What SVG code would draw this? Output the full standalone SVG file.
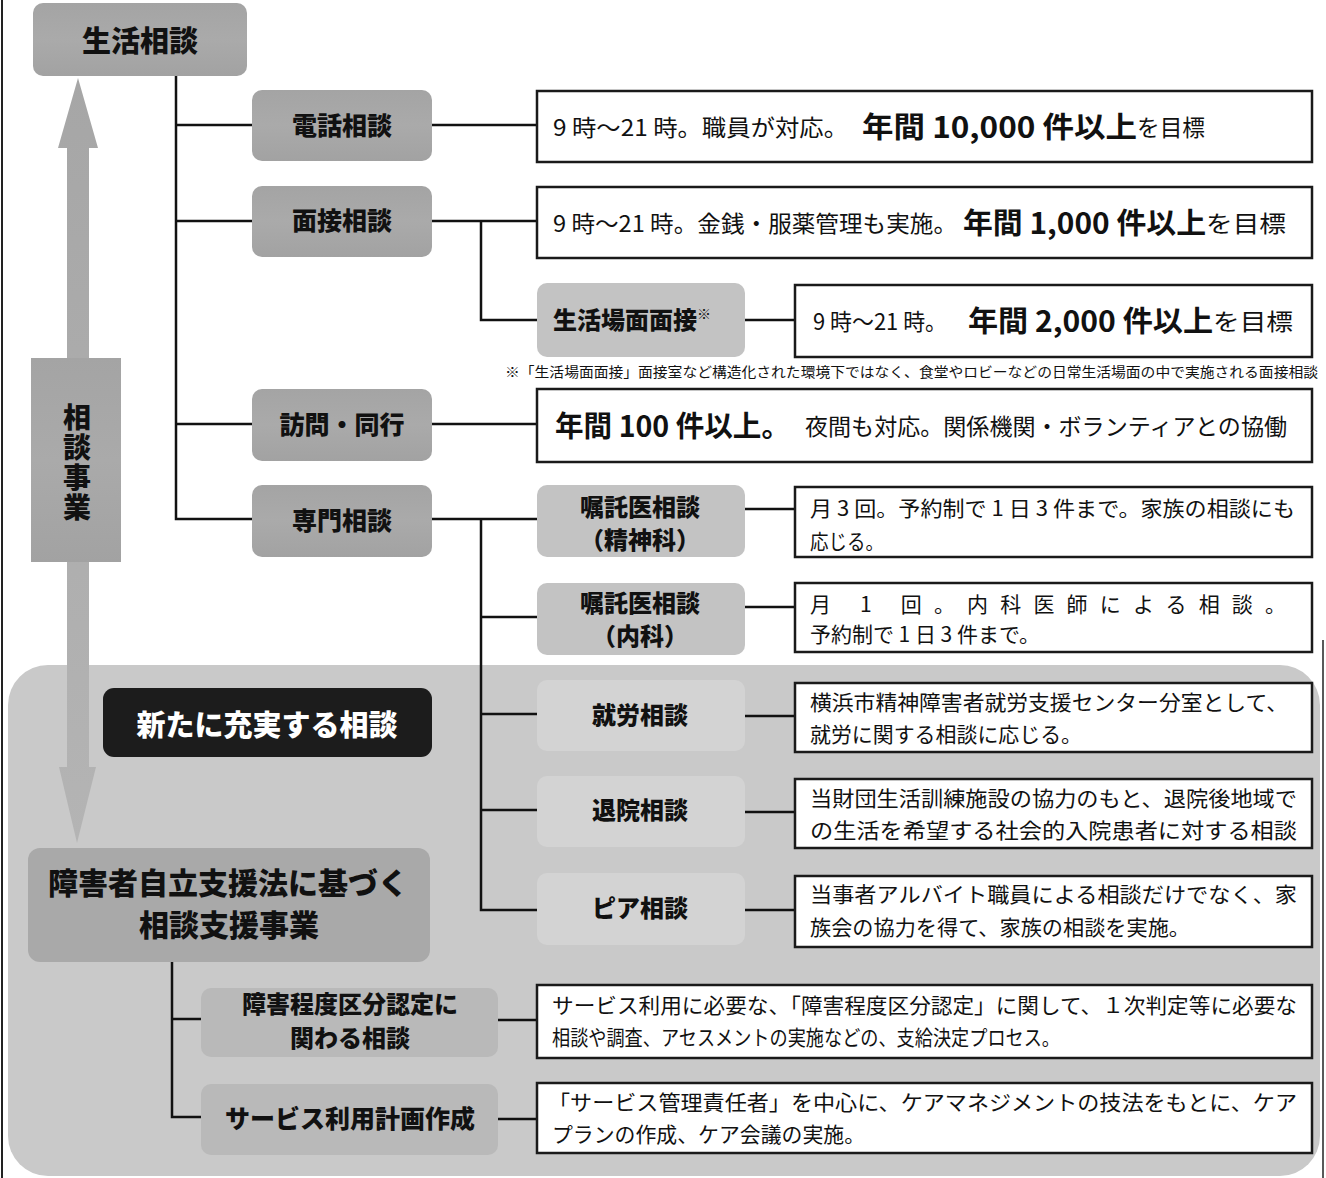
<svg xmlns="http://www.w3.org/2000/svg" width="1326" height="1178" viewBox="0 0 1326 1178">
<defs>
<linearGradient id="gNode" x1="0" y1="0" x2="0" y2="1">
<stop offset="0" stop-color="#a4a4a4"/><stop offset="0.5" stop-color="#aaaaaa"/><stop offset="1" stop-color="#a2a2a2"/>
</linearGradient>
<linearGradient id="gArrow" x1="0" y1="0" x2="0" y2="1">
<stop offset="0" stop-color="#a6a6a6"/><stop offset="1" stop-color="#b4b4b4"/>
</linearGradient>
<style>
.t{font-family:"Noto Sans CJK JP","Noto Sans CJK SC",sans-serif;fill:#111}
.b{font-weight:700}
.nodeT{font-family:"Noto Sans CJK JP","Noto Sans CJK SC",sans-serif;font-weight:900;fill:#111;text-anchor:middle}
.box{fill:#fff;stroke:#1a1a1a;stroke-width:2.5}
.n1{fill:url(#gNode)}
.n2{fill:#c3c3c3}
.n3{fill:#d3d3d3}
.n4{fill:#b9b9b9}
.c{fill:none;stroke:#111;stroke-width:2.5}
</style>
</defs>
<rect width="1326" height="1178" fill="#fff"/>
<line x1="2" y1="0" x2="2" y2="1178" stroke="#222" stroke-width="2"/>
<line x1="1323" y1="640" x2="1323" y2="1178" stroke="#222" stroke-width="1.5"/>
<rect x="8" y="665" width="1312" height="511" rx="40" fill="#c9c9c9"/>
<g id="arrow">
<path d="M78,78 L98,148 L89,148 L89,767 L96,767 L77,843 L59,767 L67,767 L67,148 L58,148 Z" fill="url(#gArrow)"/>
</g>
<g id="connectors">
<path class="c" d="M176,76 V519 H252 M176,125 H252 M176,221 H252 M176,424 H252"/>
<path class="c" d="M432,125 H537 M432,221 H537 M481,221 V320 H537 M745,320 H795 M432,424 H537"/>
<path class="c" d="M432,519 H537 M481,519 V910 H537 M481,617 H537 M481,714 H537 M481,810 H537"/>
<path class="c" d="M745,509 H795 M745,607 H795 M745,716 H795 M745,812 H795 M745,910 H795"/>
<path class="c" d="M172,962 V1117 H201 M172,1019 H201 M498,1020 H537 M498,1119 H537"/>
</g>
<g id="n-seikatsu"><rect class="n1" x="33" y="3" width="214" height="73" rx="10"/><text class="nodeT" x="140" y="52" font-size="29">生活相談</text></g>
<g id="n-jigyo"><rect class="n1" x="31" y="358" width="90" height="204"/>
<text x="77" y="403" font-size="28" letter-spacing="2" style="writing-mode:vertical-rl;font-family:'Noto Sans CJK JP','Noto Sans CJK SC',sans-serif;font-weight:900;fill:#111">相談事業</text></g>
<g id="n-denwa"><rect class="n1" x="252" y="90" width="180" height="71" rx="10"/><text class="nodeT" x="342" y="135" font-size="25">電話相談</text></g>
<g id="n-mensetsu"><rect class="n1" x="252" y="186" width="180" height="71" rx="10"/><text class="nodeT" x="342" y="230" font-size="25">面接相談</text></g>
<g id="n-homon"><rect class="n1" x="252" y="389" width="180" height="72" rx="10"/><text class="nodeT" x="342" y="434" font-size="25">訪問・同行</text></g>
<g id="n-senmon"><rect class="n1" x="252" y="485" width="180" height="72" rx="10"/><text class="nodeT" x="342" y="530" font-size="25">専門相談</text></g>
<g id="n-bamen"><rect class="n2" x="537" y="283" width="208" height="74" rx="10"/><text class="nodeT" x="632" y="329" font-size="24">生活場面面接<tspan font-size="14" dy="-10" style="fill:#111">※</tspan></text></g>
<g id="n-seishin"><rect class="n2" x="537" y="485" width="208" height="72" rx="10"/><text class="nodeT" x="640" y="516" font-size="24">嘱託医相談</text><text class="nodeT" x="640" y="549" font-size="24">（精神科）</text></g>
<g id="n-naika"><rect class="n2" x="537" y="583" width="208" height="72" rx="10"/><text class="nodeT" x="640" y="612" font-size="24">嘱託医相談</text><text class="nodeT" x="640" y="645" font-size="24">（内科）</text></g>
<g id="n-shuro"><rect class="n3" x="537" y="680" width="208" height="71" rx="10"/><text class="nodeT" x="640" y="724" font-size="24">就労相談</text></g>
<g id="n-taiin"><rect class="n3" x="537" y="776" width="208" height="71" rx="10"/><text class="nodeT" x="640" y="819" font-size="24">退院相談</text></g>
<g id="n-peer"><rect class="n3" x="537" y="873" width="208" height="72" rx="10"/><text class="nodeT" x="640" y="917" font-size="24">ピア相談</text></g>
<g id="n-aratani"><rect x="103" y="688" width="329" height="69" rx="11" fill="#1c1c1c"/><text class="nodeT" x="267" y="736" font-size="29" style="fill:#fff">新たに充実する相談</text></g>
<g id="n-jiritsu"><rect x="28" y="848" width="402" height="114" rx="12" fill="#a9a9a9"/><text class="nodeT" x="228" y="894" font-size="30">障害者自立支援法に基づく</text><text class="nodeT" x="229" y="936" font-size="30">相談支援事業</text></g>
<g id="n-kubun"><rect class="n4" x="201" y="988" width="297" height="69" rx="10"/><text class="nodeT" x="350" y="1013" font-size="24">障害程度区分認定に</text><text class="nodeT" x="350" y="1047" font-size="24">関わる相談</text></g>
<g id="n-keikaku"><rect class="n4" x="201" y="1084" width="297" height="71" rx="10"/><text class="nodeT" x="350" y="1128" font-size="25">サービス利用計画作成</text></g>
<g id="d-denwa"><rect class="box" x="537" y="91" width="775" height="71"/>
<text class="t" x="553" y="136" font-size="23" textLength="295" lengthAdjust="spacingAndGlyphs">9 時〜21 時。職員が対応。</text>
<text class="t b" x="862" y="138" font-size="29" textLength="275" lengthAdjust="spacingAndGlyphs">年間 10,000 件以上</text>
<text class="t" x="1137" y="136" font-size="23" textLength="68" lengthAdjust="spacingAndGlyphs">を目標</text></g>
<g id="d-mensetsu"><rect class="box" x="537" y="187" width="775" height="71"/>
<text class="t" x="553" y="232" font-size="23" textLength="404" lengthAdjust="spacingAndGlyphs">9 時〜21 時。金銭・服薬管理も実施。</text>
<text class="t b" x="963" y="234" font-size="29" textLength="243" lengthAdjust="spacingAndGlyphs">年間 1,000 件以上</text>
<text class="t" x="1206" y="232" font-size="23" textLength="80" lengthAdjust="spacingAndGlyphs">を目標</text></g>
<g id="d-bamen"><rect class="box" x="795" y="285" width="517" height="72"/>
<text class="t" x="813" y="330" font-size="23" textLength="134" lengthAdjust="spacingAndGlyphs">9 時〜21 時。</text>
<text class="t b" x="968" y="332" font-size="29" textLength="245" lengthAdjust="spacingAndGlyphs">年間 2,000 件以上</text>
<text class="t" x="1213" y="330" font-size="23" textLength="80" lengthAdjust="spacingAndGlyphs">を目標</text></g>
<text class="t" x="505" y="377" font-size="14" textLength="813" lengthAdjust="spacingAndGlyphs">※「生活場面面接」面接室など構造化された環境下ではなく、食堂やロビーなどの日常生活場面の中で実施される面接相談</text>
<g id="d-homon"><rect class="box" x="537" y="389" width="775" height="73"/>
<text class="t b" x="555" y="437" font-size="29" textLength="235" lengthAdjust="spacingAndGlyphs">年間 100 件以上。</text>
<text class="t" x="805" y="435" font-size="23" textLength="482" lengthAdjust="spacingAndGlyphs">夜間も対応。関係機関・ボランティアとの協働</text></g>
<g id="d-seishin"><rect class="box" x="795" y="487" width="517" height="70"/>
<text class="t" x="810" y="516" font-size="21" textLength="485" lengthAdjust="spacingAndGlyphs">月 3 回。予約制で 1 日 3 件まで。家族の相談にも</text>
<text class="t" x="810" y="549" font-size="21" textLength="74" lengthAdjust="spacingAndGlyphs">応じる。</text></g>
<g id="d-naika"><rect class="box" x="795" y="583" width="517" height="69"/>
<text class="t" x="810" y="612" font-size="21" textLength="476" lengthAdjust="spacing">月 1 回。内科医師による相談。</text>
<text class="t" x="810" y="642" font-size="21" textLength="230" lengthAdjust="spacingAndGlyphs">予約制で 1 日 3 件まで。</text></g>
<g id="d-shuro"><rect class="box" x="795" y="683" width="517" height="69"/>
<text class="t" x="810" y="710" font-size="21" textLength="478" lengthAdjust="spacingAndGlyphs">横浜市精神障害者就労支援センター分室として、</text>
<text class="t" x="810" y="742" font-size="21" textLength="272" lengthAdjust="spacingAndGlyphs">就労に関する相談に応じる。</text></g>
<g id="d-taiin"><rect class="box" x="795" y="779" width="517" height="69"/>
<text class="t" x="810" y="806" font-size="21" textLength="487" lengthAdjust="spacingAndGlyphs">当財団生活訓練施設の協力のもと、退院後地域で</text>
<text class="t" x="810" y="838" font-size="21" textLength="487" lengthAdjust="spacingAndGlyphs">の生活を希望する社会的入院患者に対する相談</text></g>
<g id="d-peer"><rect class="box" x="795" y="876" width="517" height="71"/>
<text class="t" x="810" y="902" font-size="21" textLength="487" lengthAdjust="spacingAndGlyphs">当事者アルバイト職員による相談だけでなく、家</text>
<text class="t" x="810" y="935" font-size="21" textLength="380" lengthAdjust="spacingAndGlyphs">族会の協力を得て、家族の相談を実施。</text></g>
<g id="d-kubun"><rect class="box" x="537" y="985" width="775" height="73"/>
<text class="t" x="552" y="1013" font-size="21" textLength="745" lengthAdjust="spacingAndGlyphs">サービス利用に必要な、「障害程度区分認定」に関して、１次判定等に必要な</text>
<text class="t" x="552" y="1045" font-size="21" textLength="508" lengthAdjust="spacingAndGlyphs">相談や調査、アセスメントの実施などの、支給決定プロセス。</text></g>
<g id="d-keikaku"><rect class="box" x="537" y="1083" width="775" height="70"/>
<text class="t" x="548" y="1110" font-size="21" textLength="749" lengthAdjust="spacingAndGlyphs">「サービス管理責任者」を中心に、ケアマネジメントの技法をもとに、ケア</text>
<text class="t" x="552" y="1142" font-size="21" textLength="313" lengthAdjust="spacingAndGlyphs">プランの作成、ケア会議の実施。</text></g>
</svg>
